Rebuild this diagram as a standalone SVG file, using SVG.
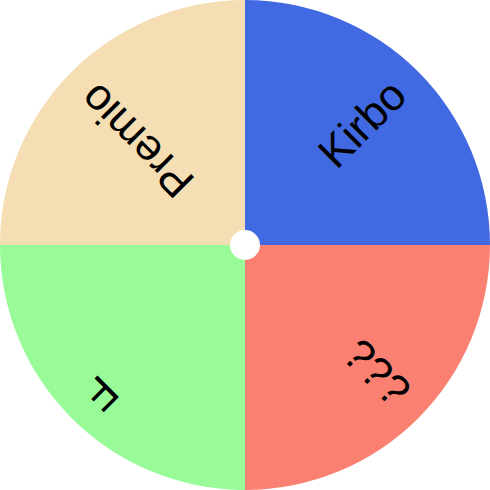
<svg xmlns="http://www.w3.org/2000/svg" width="490" height="490" viewBox="0 0 490 490">
<style>
.lbl{font-family:"Liberation Sans",Arial,sans-serif;font-size:44px;fill:#000;text-anchor:end}
</style>
<rect width="490" height="490" fill="#fff"/>
<g id="seg-premio">
<path d="M245,245 L0,245 A245,245 0 0 1 245,0 Z" fill="#F5DEB3"/>
<text class="lbl" transform="translate(245,245) rotate(225)" x="220" y="12">Premio</text>
</g>
<g id="seg-kirbo">
<path d="M245,245 L245,0 A245,245 0 0 1 490,245 Z" fill="#4169E1"/>
<text class="lbl" transform="translate(245,245) rotate(-45)" x="220" y="12">Kirbo</text>
</g>
<g id="seg-qqq">
<path d="M245,245 L490,245 A245,245 0 0 1 245,490 Z" fill="#FA8072"/>
<text class="lbl" transform="translate(245,245) rotate(45)" x="220" y="12">???</text>
</g>
<g id="seg-f">
<path d="M245,245 L245,490 A245,245 0 0 1 0,245 Z" fill="#98FB98"/>
<text class="lbl" transform="translate(245,245) rotate(135)" x="220" y="12">F</text>
</g>
<g id="connectors"></g>
<g id="hub">
<circle cx="245" cy="245" r="15" fill="#fff"/>
</g>
</svg>
